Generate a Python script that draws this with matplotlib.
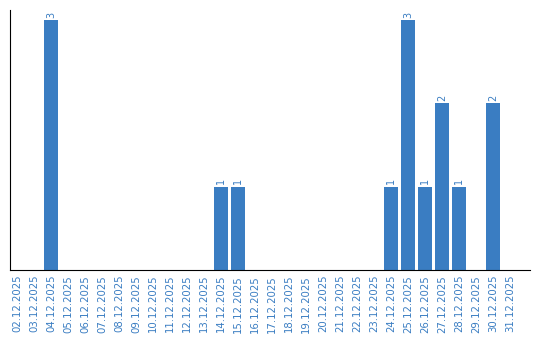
import matplotlib
matplotlib.use("Agg")
import matplotlib.pyplot as plt

dates = [f"{d:02d}.12.2025" for d in range(2, 32)]
counts = [0, 0, 3, 0, 0, 0, 0, 0, 0, 0, 0, 0, 1, 1, 0, 0, 0, 0, 0, 0, 0, 0, 1, 3, 1, 2, 1, 0, 2, 0]

color = "#3a7dc2"
fig = plt.figure(figsize=(5.4, 3.4), dpi=100)
ax = fig.add_axes([10/540, 70/340, 520/540, 260/340])
x = list(range(len(dates)))
bars = ax.bar(x, counts, width=0.8, color=color)
for xi, v in zip(x, counts):
    if v > 0:
        ax.text(xi, v + 0.03, str(v), rotation=90, ha="center", va="bottom",
                color=color, fontsize=7)
ax.set_xlim(-7/17, 513/17)
ax.set_ylim(0, 3.12)
ax.set_xticks(x)
ax.set_xticklabels(dates, rotation=90, fontsize=7.3, color=color)
ax.tick_params(axis="x", length=0, pad=3.5)
ax.set_yticks([])
ax.spines["top"].set_visible(False)
ax.spines["right"].set_visible(False)
fig.savefig("out.png", dpi=100)
